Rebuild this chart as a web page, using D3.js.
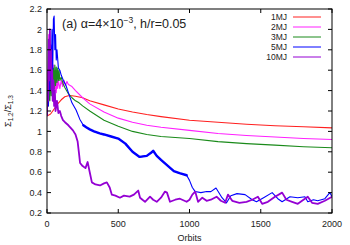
<!DOCTYPE html>
<html>
<head>
<meta charset="utf-8">
<script src="https://cdn.jsdelivr.net/npm/d3@7"></script>
<style>
  body { margin: 0; background: #fff; }
  text { font-family: "Liberation Sans", Arial, sans-serif; fill: #222; }
</style>
</head>
<body>
<script>
// --- data (orbit, ratio) ---
const series = ["1MJ", "2MJ", "3MJ", "5MJ", "10MJ"];
const colors = ["#ff2020", "#ff20ff", "#1a8a1a", "#0000ff", "#9400d3"];

const orbits1 = [0,25,50,75,100,125,150,175,200,250,300,400,500,600,700,800,1000,1200,1400,1600,1800,2000];
const ratio1  = [1.15,1.17,1.22,1.27,1.31,1.34,1.35,1.35,1.345,1.33,1.30,1.26,1.22,1.19,1.165,1.145,1.11,1.09,1.07,1.055,1.045,1.035];

const orbits2 = [0,4,8,12,16,20,24,28,32,36,40,44,48,52,56,60,65,70,75,80,90,100,110,120,130,140,150,175,200,250,300,400,500,600,700,800,1000,1200,1400,1600,1800,2000];
const ratio2  = [1.15,1.6,1.3,1.95,1.4,2.0,1.5,1.85,1.45,1.75,1.4,1.65,1.35,1.6,1.4,1.55,1.38,1.52,1.42,1.5,1.42,1.5,1.44,1.5,1.45,1.49,1.46,1.44,1.40,1.33,1.27,1.19,1.13,1.09,1.06,1.04,1.01,0.98,0.96,0.945,0.93,0.92];

const orbits3 = [0,5,10,15,20,25,30,35,40,45,50,55,60,65,70,75,80,85,90,100,112,125,150,175,200,225,250,300,400,500,600,700,800,1000,1200,1400,1600,1800,2000];
const ratio3  = [1.15,1.3,1.25,1.45,1.3,1.55,1.35,1.6,1.4,1.62,1.42,1.65,1.45,1.63,1.48,1.62,1.5,1.6,1.5,1.53,1.47,1.43,1.37,1.33,1.30,1.28,1.25,1.2,1.11,1.05,1.0,0.97,0.95,0.93,0.9,0.88,0.865,0.85,0.84];

const orbits5 = [0,5,10,15,20,25,30,35,40,45,50,55,60,65,70,80,90,100,115,133,150,175,204,230,255,275,300,330,370,400,450,500,550,600,650,700,730,745,770,800,850,890,930,980,1000,1020,1040,1080,1120,1150,1186,1228,1260,1290,1333,1390,1440,1470,1520,1580,1620,1650,1705,1760,1810,1830,1870,1900,1950,1985,2000];
const ratio5  = [1.15,1.4,1.25,1.7,1.4,1.85,1.5,2.0,1.6,2.1,2.13,1.8,1.95,1.7,1.8,1.62,1.6,1.55,1.5,1.45,1.38,1.28,1.21,1.12,1.06,1.04,1.02,1.0,0.98,0.97,0.95,0.93,0.88,0.8,0.75,0.76,0.79,0.81,0.76,0.72,0.66,0.61,0.59,0.57,0.52,0.45,0.41,0.40,0.41,0.41,0.445,0.35,0.30,0.37,0.39,0.38,0.33,0.31,0.35,0.40,0.34,0.31,0.36,0.35,0.36,0.31,0.33,0.32,0.34,0.40,0.36];

const orbits10 = [0,4,8,12,16,20,24,28,32,36,40,45,50,55,60,70,80,90,100,112,126,150,182,200,215,225,232,250,270,285,300,315,340,372,400,420,440,455,480,512,540,580,610,640,653,670,688,723,745,770,800,828,842,863,900,933,980,1000,1020,1040,1060,1090,1120,1150,1190,1220,1250,1270,1300,1350,1400,1440,1480,1510,1550,1600,1650,1680,1720,1760,1800,1830,1860,1900,1950,2000];
const ratio10  = [1.15,1.5,1.3,1.9,1.5,2.0,1.6,1.8,1.4,1.6,1.3,1.5,1.25,1.4,1.2,1.3,1.18,1.2,1.15,1.11,1.09,1.06,1.01,0.97,0.9,0.78,0.69,0.66,0.64,0.70,0.6,0.50,0.48,0.47,0.49,0.50,0.45,0.38,0.37,0.35,0.37,0.36,0.38,0.42,0.35,0.33,0.31,0.36,0.33,0.31,0.35,0.41,0.40,0.31,0.33,0.34,0.31,0.33,0.38,0.41,0.31,0.35,0.32,0.33,0.36,0.32,0.30,0.38,0.32,0.30,0.31,0.33,0.36,0.29,0.31,0.36,0.40,0.33,0.31,0.29,0.33,0.36,0.30,0.29,0.32,0.36];

const allOrbits = [orbits1, orbits2, orbits3, orbits5, orbits10];
const allRatios = [ratio1, ratio2, ratio3, ratio5, ratio10];

const xTicks = [0, 500, 1000, 1500, 2000];
const yTicks = [0.2,0.4,0.6,0.8,1,1.2,1.4,1.6,1.8,2,2.2];

// --- layout ---
const W = 350, H = 245;
const m = {left: 47, right: 18, top: 9, bottom: 32};

const svg = d3.select("body").append("svg")
  .attr("width", W).attr("height", H);

const x = d3.scaleLinear().domain([0, 2000]).range([m.left, W - m.right]);
const y = d3.scaleLinear().domain([0.2, 2.2]).range([H - m.bottom, m.top]);

const plot = svg.append("g");
plot.append("clipPath").attr("id", "clip")
  .append("rect")
  .attr("x", m.left).attr("y", m.top)
  .attr("width", W - m.left - m.right).attr("height", H - m.top - m.bottom);

const line = d3.line().x(d => x(d[0])).y(d => y(d[1]));

const curves = plot.append("g").attr("clip-path", "url(#clip)");
series.forEach((s, i) => {
  const pts = allOrbits[i].map((o, j) => [o, allRatios[i][j]]);
  curves.append("path")
    .attr("d", line(pts))
    .attr("fill", "none")
    .attr("stroke", colors[i])
    .attr("stroke-width", i === 4 ? 1.8 : 1.1)
    .attr("stroke-linejoin", "round");
  // noisy band of the 5MJ run, drawn thicker
  if (i === 3) {
    curves.append("path")
      .attr("d", line(pts.filter(p => p[0] >= 255 && p[0] <= 980)))
      .attr("fill", "none")
      .attr("stroke", colors[i])
      .attr("stroke-width", 2.4)
      .attr("stroke-linejoin", "round")
      .attr("stroke-linecap", "round");
  }
});

// --- frame & ticks (gnuplot style, inward, mirrored) ---
const axes = svg.append("g");
axes.append("rect")
  .attr("x", m.left).attr("y", m.top)
  .attr("width", W - m.left - m.right).attr("height", H - m.top - m.bottom)
  .attr("fill", "none").attr("stroke", "#000").attr("stroke-width", 1);

const tl = 4;
xTicks.forEach(t => {
  axes.append("line").attr("x1", x(t)).attr("x2", x(t))
    .attr("y1", y(0.2)).attr("y2", y(0.2) - tl).attr("stroke", "#000");
  axes.append("line").attr("x1", x(t)).attr("x2", x(t))
    .attr("y1", y(2.2)).attr("y2", y(2.2) + tl).attr("stroke", "#000");
  axes.append("text").attr("x", x(t)).attr("y", H - m.bottom + 14)
    .attr("text-anchor", "middle").attr("font-size", 9).text(t);
});
yTicks.forEach(t => {
  axes.append("line").attr("x1", x(0)).attr("x2", x(0) + tl)
    .attr("y1", y(t)).attr("y2", y(t)).attr("stroke", "#000");
  axes.append("line").attr("x1", x(2000)).attr("x2", x(2000) - tl)
    .attr("y1", y(t)).attr("y2", y(t)).attr("stroke", "#000");
  axes.append("text").attr("x", m.left - 5).attr("y", y(t) + 3.2)
    .attr("text-anchor", "end").attr("font-size", 9).text(d3.format("~g")(t));
});

// axis titles
svg.append("text").attr("x", (m.left + W - m.right) / 2).attr("y", H - 4)
  .attr("text-anchor", "middle").attr("font-size", 9).text("Orbits");

const yl = svg.append("text")
  .attr("transform", `translate(11,${(m.top + H - m.bottom) / 2}) rotate(-90)`)
  .attr("text-anchor", "middle").attr("font-size", 9);
yl.append("tspan").text("Σ");
yl.append("tspan").attr("font-size", 6.5).attr("dy", 2).text("1.2");
yl.append("tspan").attr("dy", -2).text("/Σ");
yl.append("tspan").attr("font-size", 6.5).attr("dy", 2).text("1.3");

// panel title
const title = svg.append("text").attr("x", 62).attr("y", 28).attr("font-size", 12.5);
title.append("tspan").text("(a) α=4×10");
title.append("tspan").attr("font-size", 8.5).attr("dy", -5).text("−3");
title.append("tspan").attr("dy", 5).text(", h/r=0.05");

// legend
const lg = svg.append("g");
series.forEach((s, i) => {
  const ly = 17 + i * 10;
  lg.append("text").attr("x", 287).attr("y", ly + 3)
    .attr("text-anchor", "end").attr("font-size", 8.5).text(s);
  lg.append("line").attr("x1", 293).attr("x2", 321)
    .attr("y1", ly).attr("y2", ly)
    .attr("stroke", colors[i]).attr("stroke-width", 1);
});
</script>
</body>
</html>
